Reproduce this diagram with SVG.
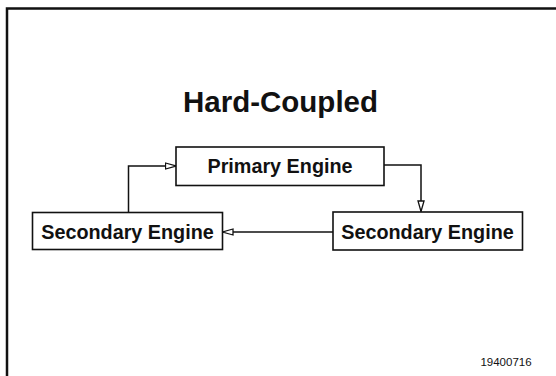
<svg xmlns="http://www.w3.org/2000/svg" width="556" height="376" viewBox="0 0 556 376">
<style>
.box{fill:#fff;stroke:#111;stroke-width:1.6}
.lbl{font-family:"Liberation Sans",Arial,sans-serif;font-weight:bold;font-size:19.8px;fill:#111;text-anchor:middle}
.conn{fill:none;stroke:#111;stroke-width:1.5}
</style>
<defs>
<marker id="arr" viewBox="0 0 12 8" refX="11.5" refY="4" markerWidth="12" markerHeight="8" markerUnits="userSpaceOnUse" orient="auto">
<path d="M1,1 L11.5,4 L1,7 Z" fill="#fff" stroke="#111" stroke-width="1.3"/>
</marker>
</defs>
<rect width="556" height="376" fill="#fff"/>
<path d="M7,376 V8.5 H556" fill="none" stroke="#111" stroke-width="2.5"/>
<text x="280.5" y="112" font-family="'Liberation Sans',Arial,sans-serif" font-weight="bold" font-size="29.5" fill="#111" text-anchor="middle">Hard-Coupled</text>
<g id="connectors">
<path class="conn" d="M128.5,212 V166 H176" marker-end="url(#arr)"/>
<path class="conn" d="M384,165 H421 V211.5" marker-end="url(#arr)"/>
<path class="conn" d="M333,232 H222.5" marker-end="url(#arr)"/>
</g>
<g id="primary">
<rect class="box" x="176" y="147" width="208" height="38.5"/>
<text class="lbl" x="280" y="172.5">Primary Engine</text>
</g>
<g id="secondary-left">
<rect class="box" x="32.5" y="212.5" width="190" height="37"/>
<text class="lbl" x="127.5" y="238.5">Secondary Engine</text>
</g>
<g id="secondary-right">
<rect class="box" x="333" y="212" width="189.5" height="38"/>
<text class="lbl" x="427.5" y="238.5">Secondary Engine</text>
</g>
<text x="506" y="366" font-family="'Liberation Sans',Arial,sans-serif" font-size="11.5" fill="#111" text-anchor="middle">19400716</text>
</svg>
